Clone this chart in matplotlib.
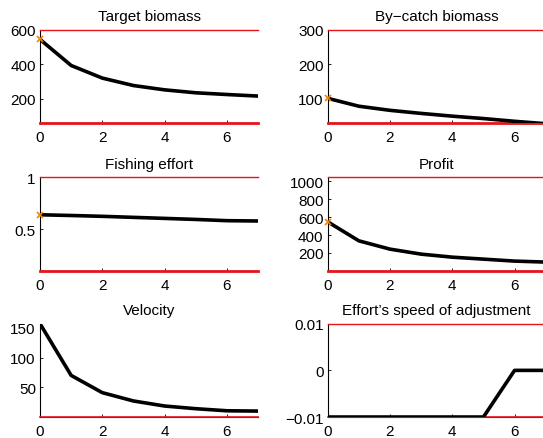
import numpy as np
import matplotlib
matplotlib.use('Agg')
import matplotlib.pyplot as plt

plt.rcParams['font.family'] = ['Liberation Sans', 'DejaVu Sans']
plt.rcParams['font.size'] = 11

# time steps
t = [0, 1, 2, 3, 4, 5, 6, 7]

target = [544, 393, 320, 277, 252, 235, 225, 216]
bycatch = [100, 77, 65, 56, 48, 41, 33, 26]
effort = [0.64, 0.633, 0.625, 0.615, 0.605, 0.595, 0.583, 0.58]
profit = [548, 335, 242, 186, 152, 130, 108, 97]
velocity = [157, 70, 41, 27, 18.5, 14, 10.5, 10]
speed = [-0.01, -0.01, -0.01, -0.01, -0.01, -0.01, 0, 0]

titles = ['Target biomass', 'By\u2212catch biomass', 'Fishing effort',
          'Profit', 'Velocity', 'Effort\u2019s speed of adjustment']
series = [target, bycatch, effort, profit, velocity, speed]
# lower / upper bounds (None = no bound line)
lower = [60, 28, 0.1, 0, 0, -0.01]
upper = [600, 300, 1, 1045, None, 0.01]
yticks = [[200, 400, 600], [100, 200, 300], [0.5, 1],
          [200, 400, 600, 800, 1000], [50, 100, 150], [-0.01, 0, 0.01]]
ytick_labels = [None, None, ['0.5', '1'], None, None,
                ['\u22120.01', '0', '0.01']]
show_start = [True, True, True, True, False, False]
low_lw = [2.0, 2.0, 2.0, 2.0, 1.2, 1.2]

fig = plt.figure(figsize=(5.43, 4.39), dpi=100)

lefts = [0.0737, 0.6035]
bottoms = [0.7175, 0.381, 0.0478]
w, h = 0.4015, 0.2125

for i in range(6):
    row, col = i // 2, i % 2
    ax = fig.add_axes([lefts[col], bottoms[row], w, h])
    y = series[i]
    top = upper[i] if upper[i] is not None else max(y)
    ax.set_xlim(0, 7)
    ax.set_ylim(lower[i], top)

    ax.plot(t, y, color='black', lw=2.6, zorder=3, solid_capstyle='butt')
    if upper[i] is not None:
        ax.axhline(upper[i], color='#e8141c', lw=1.0, zorder=2.6, clip_on=False)
    ax.axhline(lower[i], color='#e8141c', lw=low_lw[i], zorder=2.6, clip_on=False)
    if show_start[i]:
        ax.plot([0], [y[0]], 'x', color='#f0820a', ms=5, mew=1.2,
                zorder=5, clip_on=False)

    ax.set_title(titles[i], pad=7, fontsize=11)
    ax.set_xticks([0, 2, 4, 6])
    ax.set_yticks(yticks[i])
    if ytick_labels[i] is not None:
        ax.set_yticklabels(ytick_labels[i])
    ax.tick_params(direction='in', length=2.5, width=0.6, labelsize=11)
    ax.tick_params(axis='x', pad=5)
    ax.tick_params(axis='y', pad=3)
    for s in ['top', 'right']:
        ax.spines[s].set_visible(False)
    ax.spines['left'].set_linewidth(0.8)
    ax.spines['bottom'].set_linewidth(0.8)

fig.savefig('out.png', dpi=100)
